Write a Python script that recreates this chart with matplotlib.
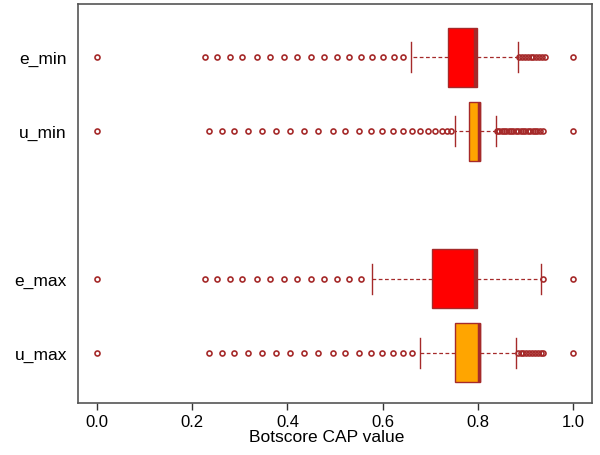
import matplotlib
matplotlib.use('Agg')
import matplotlib.pyplot as plt

plt.rcParams['font.family'] = ['Liberation Sans', 'DejaVu Sans']

# groups, bottom to top
labels = ['u_max', 'e_max', 'u_min', 'e_min']
positions = [1, 2, 4, 5]
box_colors = ['#FFA500', '#FF0000', '#FFA500', '#FF0000']

# five-number summaries
whislo = [0.679, 0.578, 0.753, 0.660]
q1 = [0.752, 0.704, 0.782, 0.737]
med = [0.803, 0.795, 0.803, 0.795]
q3 = [0.805, 0.798, 0.805, 0.798]
whishi = [0.880, 0.933, 0.838, 0.885]

# outliers
fliers_u_max = [0.0, 0.235, 0.262, 0.288, 0.317, 0.347, 0.375, 0.406, 0.435,
                0.465, 0.495, 0.522, 0.550, 0.575, 0.599, 0.621, 0.642, 0.662,
                0.884, 0.890, 0.896, 0.902, 0.908, 0.914, 0.920, 0.926,
                0.932, 0.937, 1.0]
fliers_e_max = [0.0, 0.226, 0.253, 0.279, 0.305, 0.336, 0.363, 0.392, 0.420,
                0.449, 0.476, 0.504, 0.529, 0.555, 0.937, 1.0]
fliers_u_min = [0.0, 0.235, 0.262, 0.288, 0.317, 0.347, 0.375, 0.406, 0.435,
                0.465, 0.495, 0.522, 0.550, 0.575, 0.599, 0.621, 0.642, 0.662,
                0.679, 0.695, 0.710, 0.724, 0.735, 0.744,
                0.840, 0.845, 0.850, 0.855, 0.860, 0.865, 0.870, 0.875, 0.880,
                0.885, 0.890, 0.895, 0.900, 0.905, 0.910, 0.915, 0.920, 0.925,
                0.930, 0.937, 1.0]
fliers_e_min = [0.0, 0.226, 0.253, 0.279, 0.305, 0.336, 0.363, 0.392, 0.420,
                0.449, 0.476, 0.504, 0.529, 0.555, 0.578, 0.600, 0.623, 0.642,
                0.887, 0.893, 0.899, 0.905, 0.911, 0.917, 0.923, 0.929,
                0.935, 0.941, 1.0]
fliers = [fliers_u_max, fliers_e_max, fliers_u_min, fliers_e_min]

stats = []
for i in range(len(labels)):
    stats.append({'label': labels[i], 'whislo': whislo[i], 'q1': q1[i],
                  'med': med[i], 'q3': q3[i], 'whishi': whishi[i],
                  'fliers': fliers[i]})

brown = '#A52A2A'
fig = plt.figure(figsize=(6, 4.56), dpi=100)
ax = fig.add_axes([78/600, 1-404/456, 514/600, 399/456])

bp = ax.bxp(stats, positions=positions, vert=False, widths=0.8,
            capwidths=0.4, patch_artist=True,
            boxprops=dict(edgecolor=brown, linewidth=1),
            medianprops=dict(color=brown, linewidth=2.5),
            whiskerprops=dict(color=brown, linewidth=0.9, linestyle=(0, (3, 2))),
            capprops=dict(color=brown, linewidth=1),
            flierprops=dict(marker='o', markersize=3.6, markerfacecolor='none',
                            markeredgecolor=brown, markeredgewidth=1.2))
for patch, c in zip(bp['boxes'], box_colors):
    patch.set_facecolor(c)

ax.set_xlim(-0.04, 1.04)
ax.set_ylim(0.32, 5.72)
ax.set_xticks([0.0, 0.2, 0.4, 0.6, 0.8, 1.0])
ax.set_xticklabels(['0.0', '0.2', '0.4', '0.6', '0.8', '1.0'])
ax.set_yticks(positions)
ax.set_yticklabels(labels)
ax.tick_params(axis='x', length=5, width=1, color='#333333', labelsize=12, pad=3)
ax.tick_params(axis='y', length=0, labelsize=12.5, pad=8)
ax.set_xlabel('Botscore CAP value', fontsize=12.5, labelpad=1)
ax.xaxis.set_label_coords(0.484, -0.065)
ax.xaxis.label.set_verticalalignment('top')
for s in ax.spines.values():
    s.set_color('#555555')
    s.set_linewidth(1.2)

fig.savefig('out.png', dpi=100)
